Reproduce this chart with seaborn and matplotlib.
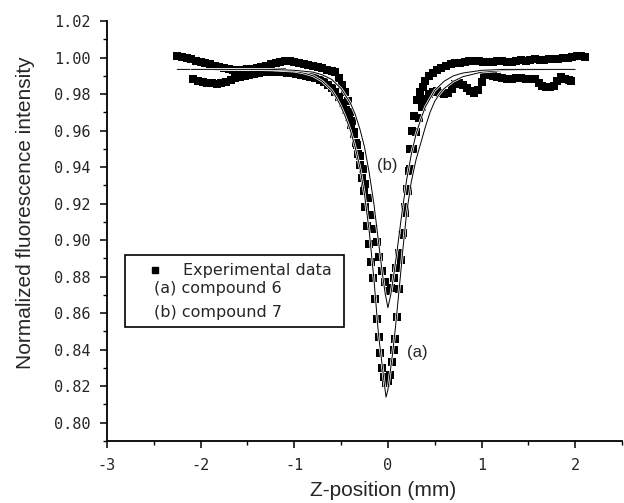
import matplotlib
matplotlib.use("Agg")
import matplotlib.pyplot as plt
import matplotlib.patheffects as pe
from matplotlib.patches import Rectangle
from matplotlib.ticker import MultipleLocator
import seaborn as sns

# experimental data, compound 6 (deeper dip)
exp6_x = [-2.25, -2.20, -2.15, -2.10, -2.05, -2.00, -1.95, -1.90, -1.85, -1.80,
          -1.75, -1.70, -1.65, -1.60, -1.55, -1.50, -1.45, -1.40, -1.35, -1.30,
          -1.25, -1.20, -1.15, -1.10, -1.05, -1.00, -0.95, -0.90, -0.85, -0.80,
          -0.75, -0.70, -0.65, -0.60, -0.56, -0.52, -0.49, -0.46, -0.43, -0.40,
          -0.38, -0.36, -0.34, -0.32, -0.30, -0.28, -0.26, -0.24, -0.22, -0.20,
          -0.18, -0.16, -0.14, -0.12, -0.10, -0.08, -0.06, -0.04, -0.02, 0.00,
          0.02, 0.04, 0.06, 0.08, 0.10, 0.12, 0.14, 0.16, 0.18, 0.20,
          0.22, 0.24, 0.26, 0.28, 0.31, 0.34, 0.37, 0.40, 0.44, 0.48,
          0.52, 0.57, 0.62, 0.67, 0.72, 0.77, 0.82, 0.87, 0.92, 0.97,
          1.02, 1.07, 1.12, 1.17, 1.22, 1.27, 1.32, 1.37, 1.42, 1.47,
          1.52, 1.57, 1.62, 1.67, 1.72, 1.77, 1.82, 1.87, 1.92, 1.97,
          2.02, 2.06, 2.10]
exp6_y = [1.0007, 1.0003, 0.9995, 0.9990, 0.9982, 0.9975, 0.9968, 0.9962, 0.9956, 0.9950,
          0.9942, 0.9936, 0.9932, 0.9930, 0.9932, 0.9935, 0.9938, 0.9942, 0.9947, 0.9953,
          0.9962, 0.9970, 0.9976, 0.9979, 0.9980, 0.9978, 0.9972, 0.9964, 0.9957, 0.9951,
          0.9946, 0.9940, 0.9932, 0.9925, 0.9918, 0.9890, 0.9852, 0.9810, 0.9760, 0.9700,
          0.9650, 0.9592, 0.9532, 0.9470, 0.9410, 0.9340, 0.9270, 0.9180, 0.9080, 0.8980,
          0.8880, 0.8790, 0.8680, 0.8570, 0.8470, 0.8380, 0.8300, 0.8250, 0.8220, 0.8230,
          0.8260, 0.8330, 0.8400, 0.8460, 0.8580, 0.8730, 0.8890, 0.9040, 0.9180, 0.9280,
          0.9380, 0.9500, 0.9600, 0.9680, 0.9770, 0.9810, 0.9840, 0.9870, 0.9897, 0.9915,
          0.9930, 0.9945, 0.9955, 0.9963, 0.9968, 0.9972, 0.9976, 0.9979, 0.9980, 0.9980,
          0.9978, 0.9975, 0.9978, 0.9981, 0.9980, 0.9974, 0.9976, 0.9982, 0.9985, 0.9983,
          0.9986, 0.9990, 0.9988, 0.9986, 0.9990, 0.9993, 0.9992, 0.9995, 0.9998, 1.0002,
          1.0007, 1.0006, 1.0002]

# experimental data, compound 7 (shallower dip)
exp7_x = [-2.08, -2.03, -1.98, -1.93, -1.88, -1.83, -1.78, -1.73, -1.68, -1.63,
          -1.58, -1.53, -1.48, -1.43, -1.38, -1.33, -1.28, -1.23, -1.18, -1.13,
          -1.08, -1.03, -0.98, -0.93, -0.88, -0.83, -0.78, -0.73, -0.68, -0.64,
          -0.60, -0.56, -0.52, -0.48, -0.45, -0.42, -0.39, -0.36, -0.33, -0.30,
          -0.27, -0.24, -0.21, -0.18, -0.15, -0.12, -0.09, -0.06, -0.03, 0.00,
          0.03, 0.06, 0.09, 0.12, 0.15, 0.18, 0.21, 0.24, 0.27, 0.30,
          0.33, 0.36, 0.40, 0.44, 0.48, 0.52, 0.56, 0.60, 0.64, 0.68,
          0.72, 0.76, 0.80, 0.84, 0.88, 0.92, 0.96, 1.00, 1.03, 1.07,
          1.12, 1.17, 1.22, 1.27, 1.32, 1.37, 1.42, 1.47, 1.52, 1.57,
          1.61, 1.65, 1.69, 1.73, 1.77, 1.81, 1.85, 1.89, 1.93, 1.96]
exp7_y = [0.9880, 0.9872, 0.9866, 0.9862, 0.9858, 0.9857, 0.9860, 0.9868, 0.9878, 0.9887,
          0.9894, 0.9900, 0.9905, 0.9910, 0.9914, 0.9918, 0.9920, 0.9922, 0.9922, 0.9920,
          0.9917, 0.9914, 0.9910, 0.9905, 0.9900, 0.9895, 0.9888, 0.9878, 0.9864, 0.9850,
          0.9832, 0.9810, 0.9782, 0.9750, 0.9715, 0.9675, 0.9630, 0.9580, 0.9520, 0.9460,
          0.9390, 0.9310, 0.9230, 0.9140, 0.9060, 0.8990, 0.8910, 0.8830, 0.8770, 0.8720,
          0.8740, 0.8790, 0.8850, 0.8930, 0.9030, 0.9150, 0.9270, 0.9390, 0.9500, 0.9590,
          0.9670, 0.9730, 0.9775, 0.9800, 0.9812, 0.9815, 0.9808, 0.9800, 0.9805, 0.9830,
          0.9855, 0.9860, 0.9850, 0.9832, 0.9815, 0.9808, 0.9820, 0.9865, 0.9910, 0.9905,
          0.9898, 0.9892, 0.9888, 0.9885, 0.9884, 0.9886, 0.9887, 0.9885, 0.9884, 0.9880,
          0.9862, 0.9845, 0.9840, 0.9840, 0.9845, 0.9870, 0.9895, 0.9885, 0.9875, 0.9872]

# fitted curves
fit6_x = [-2.25, -2.0, -1.75, -1.5, -1.25, -1.0, -0.9, -0.8, -0.7, -0.6,
          -0.55, -0.5, -0.45, -0.4, -0.35, -0.3, -0.25, -0.2, -0.15, -0.1,
          -0.06, -0.04, -0.02, 0.0, 0.02, 0.05, 0.08, 0.12, 0.16, 0.2,
          0.25, 0.3, 0.35, 0.4, 0.45, 0.5, 0.55, 0.6, 0.7, 0.8,
          1.0, 1.25, 1.5, 1.75, 1.95]
fit6_y = [0.9935, 0.9935, 0.9935, 0.9934, 0.9932, 0.9925, 0.9915, 0.9900, 0.9870, 0.9820,
          0.9780, 0.9730, 0.9670, 0.9600, 0.9510, 0.9400, 0.9250, 0.9050, 0.8790, 0.8480,
          0.8310, 0.8220, 0.8140, 0.8180, 0.8260, 0.8380, 0.8520, 0.8730, 0.8950, 0.9150,
          0.9320, 0.9440, 0.9530, 0.9620, 0.9700, 0.9760, 0.9800, 0.9830, 0.9870, 0.9895,
          0.9920, 0.9930, 0.9933, 0.9934, 0.9935]
fit7_x = [-2.1, -1.75, -1.5, -1.25, -1.0, -0.8, -0.7, -0.6, -0.5, -0.4,
          -0.35, -0.3, -0.25, -0.2, -0.15, -0.1, -0.06, -0.03, 0.0, 0.03,
          0.06, 0.1, 0.15, 0.2, 0.25, 0.3, 0.35, 0.4, 0.5, 0.6,
          0.7, 0.8, 1.0, 1.25, 1.5, 1.75, 2.0]
fit7_y = [0.9935, 0.9935, 0.9935, 0.9935, 0.9930, 0.9920, 0.9905, 0.9880, 0.9830, 0.9750,
          0.9690, 0.9610, 0.9510, 0.9370, 0.9200, 0.8990, 0.8820, 0.8710, 0.8630, 0.8700,
          0.8800, 0.8950, 0.9150, 0.9330, 0.9470, 0.9580, 0.9660, 0.9730, 0.9820, 0.9870,
          0.9900, 0.9915, 0.9930, 0.9935, 0.9935, 0.9935, 0.9935]

x_ticks = [-3, -2, -1, 0, 1, 2]
x_ticklabels = ["-3", "-2", "-1", "0", "1", "2"]
y_ticks = [0.80, 0.82, 0.84, 0.86, 0.88, 0.90, 0.92, 0.94, 0.96, 0.98, 1.00, 1.02]
y_ticklabels = ["0.80", "0.82", "0.84", "0.86", "0.88", "0.90",
                "0.92", "0.94", "0.96", "0.98", "1.00", "1.02"]

sns.set_style("ticks")
plt.rcParams["font.family"] = ["Liberation Sans", "DejaVu Sans"]
plt.rcParams["axes.unicode_minus"] = False

fig = plt.figure(figsize=(6.24, 5.03), dpi=100)
ax = fig.add_axes([107 / 624, 1 - 441 / 503, 515 / 624, 420 / 503])

# experimental points
sns.scatterplot(x=exp6_x, y=exp6_y, marker="s", s=38, color="black", linewidth=0, ax=ax, zorder=2)
sns.scatterplot(x=exp7_x, y=exp7_y, marker="s", s=38, color="black", linewidth=0, ax=ax, zorder=2)

# fits drawn thin with a narrow white halo
halo = [pe.Stroke(linewidth=1.8, foreground="white"), pe.Normal()]
sns.lineplot(x=fit6_x, y=fit6_y, sort=False, estimator=None, color="black", linewidth=0.7,
             path_effects=halo, ax=ax, zorder=3)
sns.lineplot(x=fit7_x, y=fit7_y, sort=False, estimator=None, color="black", linewidth=0.7,
             path_effects=halo, ax=ax, zorder=3)

ax.set_xlim(-3, 2.5)
ax.set_ylim(0.79, 1.02)
ax.set_xticks(x_ticks)
ax.set_xticklabels(x_ticklabels, fontfamily="DejaVu Sans Mono", fontsize=11)
ax.set_yticks(y_ticks)
ax.set_yticklabels(y_ticklabels, fontfamily="DejaVu Sans Mono", fontsize=11)
ax.xaxis.set_minor_locator(MultipleLocator(0.5))
ax.yaxis.set_minor_locator(MultipleLocator(0.01))
ax.tick_params(which="major", direction="out", length=5, width=1.1, color="black", pad=7)
ax.tick_params(which="minor", direction="out", length=3, width=1.0, color="black")

sns.despine(ax=ax)
for side in ["left", "bottom"]:
    ax.spines[side].set_linewidth(1.3)
    ax.spines[side].set_color("black")

ax.set_xlabel("Z-position (mm)", fontsize=15)
ax.set_ylabel("Normalized fluorescence intensity", fontsize=15)
ax.xaxis.set_label_coords(0.536, -0.095)
ax.yaxis.set_label_coords(-0.14, 0.543)

# legend box
ax.add_patch(Rectangle((0.035, 0.271), 0.425, 0.172, transform=ax.transAxes,
                       fill=False, edgecolor="black", linewidth=1.2))
ax.plot([0.093], [0.407], "s", color="black", markersize=4.5, transform=ax.transAxes)
ax.text(0.148, 0.407, "Experimental data", transform=ax.transAxes, fontsize=11.5,
        family="DejaVu Sans", va="center", ha="left")
ax.text(0.091, 0.362, "(a) compound 6", transform=ax.transAxes, fontsize=11.5,
        family="DejaVu Sans", va="center", ha="left")
ax.text(0.091, 0.307, "(b) compound 7", transform=ax.transAxes, fontsize=11.5,
        family="DejaVu Sans", va="center", ha="left")

# curve labels
ax.text(0.544, 0.657, "(b)", transform=ax.transAxes, fontsize=12, va="center", ha="center")
ax.text(0.602, 0.21, "(a)", transform=ax.transAxes, fontsize=12, va="center", ha="center")

fig.savefig("out.png", dpi=100)
